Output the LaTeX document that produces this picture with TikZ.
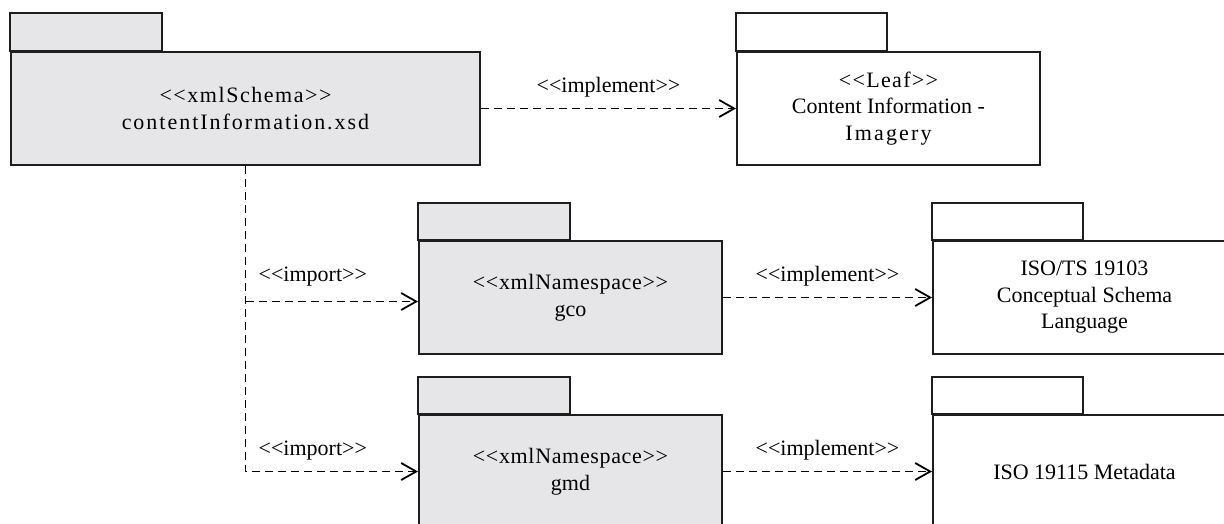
\documentclass[tikz,border=0pt]{standalone}
\usepackage{fontspec}
\setmainfont{Liberation Serif}
\usetikzlibrary{arrows.meta,positioning}
\definecolor{pkggray}{HTML}{E6E6E8}
\definecolor{edgecol}{HTML}{1E1E1E}
\newcommand{\spc}[2]{{\addfontfeature{LetterSpace=#1}#2}}
\begin{document}
\begin{tikzpicture}[x=1pt,y=-1pt,
  txt/.style={font=\fontsize{22}{26.5}\selectfont},
  pkg/.style={txt, draw=edgecol, line width=2pt, rectangle, inner sep=0pt,
    anchor=north west, minimum width=303pt, minimum height=113pt, align=center},
  grey/.style={fill=pkggray},
  white/.style={fill=white},
  tab/.style={draw=edgecol, line width=2pt},
  dep/.style={line width=1.8pt, dash pattern=on 8pt off 5pt,
    -{Straight Barb[length=15pt,width=17pt,line width=1.8pt]}},
  lbl/.style={txt, inner sep=0pt}
]
\useasboundingbox (0,0) rectangle (1224,523);
\clip (0,0) rectangle (1224,523);

% packages (bodies)
\node[pkg, grey, minimum width=469pt] (cis) at (10,51)
  {\spc{7}{<{}<xmlSchema>{}>}\\\spc{9}{contentInformation.xsd}};
\node[pkg, white] (leaf) at (736,51)
  {\spc{6}{<{}<Leaf>{}>}\\Content Information -\\\spc{10}{Imagery}};
\node[pkg, grey] (gco) at (418,240)
  {\spc{3}{<{}<xmlNamespace>{}>}\\gco};
\node[pkg, grey] (gmd) at (418,414)
  {\spc{3}{<{}<xmlNamespace>{}>}\\gmd};
\node[pkg, white] (iso3) at (932,240)
  {ISO/TS 19103\\Conceptual Schema\\Language};
\node[pkg, white] (iso15) at (932,414)
  {ISO 19115 Metadata};

% tabs
\path[tab, grey]  (cis.north west)  rectangle ++(152,-38);
\path[tab, white] (leaf.north west) rectangle ++(151,-38);
\path[tab, grey]  (gco.north west)  rectangle ++(152,-37);
\path[tab, grey]  (gmd.north west)  rectangle ++(152,-37);
\path[tab, white] (iso3.north west) rectangle ++(151,-37);
\path[tab, white] (iso15.north west) rectangle ++(151,-37);

% connectors
\draw[dep] (cis.east) -- node[lbl, above=10pt] {<{}<implement>{}>} (leaf.west);
\draw[dep] (gco.east) -- node[lbl, above=10pt] {<{}<implement>{}>} (iso3.west);
\draw[dep] (gmd.east) -- node[lbl, above=10pt] {<{}<implement>{}>} (iso15.west);
\draw[dep] (cis.south) |- node[lbl, pos=0.695, above=10pt] {<{}<import>{}>} (gmd.west);
\draw[dep] ([yshift=-4pt]cis.south |- gco.west) -- node[lbl, pos=0.39, above=14pt] {<{}<import>{}>} ([yshift=-4pt]gco.west);
\end{tikzpicture}
\end{document}
